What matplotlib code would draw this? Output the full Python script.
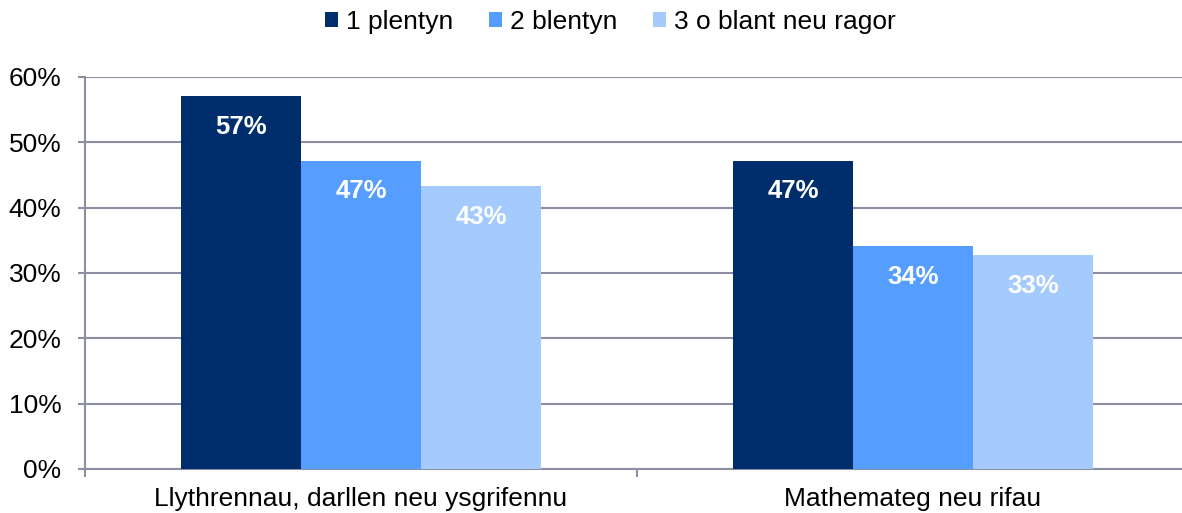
import matplotlib.pyplot as plt
import numpy as np

plt.rcParams['font.family'] = ['Liberation Sans', 'DejaVu Sans']

categories = ["Llythrennau, darllen neu ysgrifennu", "Mathemateg neu rifau"]
series_names = ["1 plentyn", "2 blentyn", "3 o blant neu ragor"]
values = [
    [57.1, 47.2],
    [47.2, 34.1],
    [43.3, 32.7],
]
labels = [
    ["57%", "47%"],
    ["47%", "34%"],
    ["43%", "33%"],
]
colors = ["#002E6C", "#559DFF", "#A4CAFE"]
grid_col = "#8C8FA3"

fig = plt.figure(figsize=(11.82, 5.13), dpi=100)
ax = fig.add_axes([85 / 1182, 44 / 513, 1104 / 1182, 392 / 513])

x = np.arange(len(categories))
w = 120 / 552
for i, (name, vals) in enumerate(zip(series_names, values)):
    pos = x + (i - 1) * w
    bars = ax.bar(pos, vals, width=w, color=colors[i], label=name, zorder=3)
    for b, lab in zip(bars, labels[i]):
        ax.annotate(lab, (b.get_x() + b.get_width() / 2, b.get_height()),
                    xytext=(0, -22), textcoords="offset points",
                    ha="center", va="center", color="white",
                    fontsize=18.5, fontweight="bold", zorder=4)

ax.set_xlim(-0.5, 1.5)
ax.set_ylim(0, 60)
ax.set_yticks(np.arange(0, 61, 10))
ax.set_yticklabels([f"{v}%" for v in range(0, 61, 10)], fontsize=19)
ax.yaxis.grid(True, color=grid_col, lw=1.5, zorder=0)
ax.set_axisbelow(True)

ax.set_xticks([-0.5, 0.5, 1.5])
ax.set_xticklabels([])
ax.set_xticks(x, minor=True)
ax.set_xticklabels(categories, minor=True, fontsize=19)
ax.tick_params(axis="x", which="minor", length=0, pad=13)
ax.tick_params(axis="x", which="major", length=6, color=grid_col, width=1.5)
ax.tick_params(axis="y", length=5, color=grid_col, width=1.5, pad=12)

for s in ["top", "right"]:
    ax.spines[s].set_visible(False)
for s in ["left", "bottom"]:
    ax.spines[s].set_color(grid_col)
    ax.spines[s].set_linewidth(1.5)

fig.legend(loc="center", bbox_to_anchor=(610 / 1182, 1 - 22 / 513), ncol=3,
           frameon=False, fontsize=19, handlelength=0.5, handleheight=0.5,
           handletextpad=0.3, columnspacing=1.35, borderpad=0)

fig.savefig("out.png", dpi=100)
